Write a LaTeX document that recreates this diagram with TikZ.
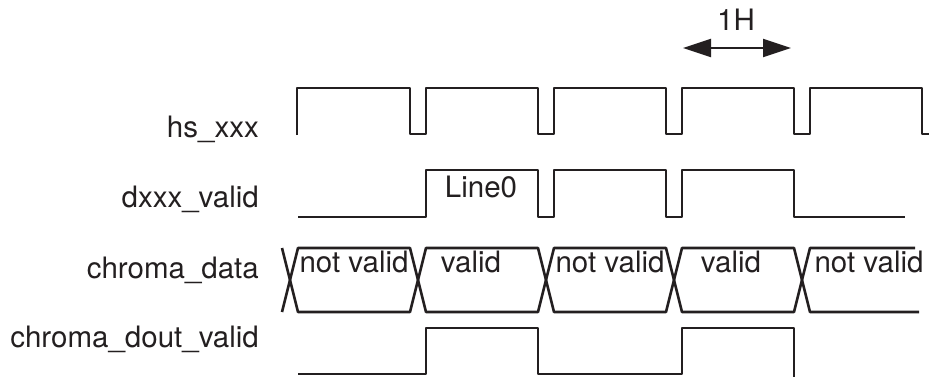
\documentclass[tikz,border=0pt]{standalone}
\usepackage{fontspec}
\setmainfont{TeX Gyre Heros}
\usetikzlibrary{arrows.meta}
\definecolor{ink}{HTML}{231F20}
\tikzset{
  sig/.style={draw=ink, line width=2.6pt, line join=round},
  lbl/.style={inner sep=0pt, anchor=base east, text=ink, font=\fontsize{29.5}{34}\selectfont},
  celltxt/.style={inner sep=0pt, anchor=base, text=ink, font=\fontsize{29.5}{34}\selectfont},
  dimarrow/.style={draw=ink, line width=2.2pt, {Triangle[length=28pt,width=18pt]}-{Triangle[length=28pt,width=18pt]}}
}
\begin{document}
\begin{tikzpicture}[x=1pt,y=-1pt]
\useasboundingbox (0,0) rectangle (929,376);
% labels
\node[lbl] (lhs) at (259,137) {hs\_xxx};
\node[lbl] (ldv) at (259,207) {dxxx\_valid};
\node[lbl] (lcd) at (259,278) {chroma\_data};
\node[lbl] (lcv) at (259,347) {chroma\_dout\_valid};
% hs_xxx
\draw[sig] (297,135) -- (297,88) -- (410,88) -- (410,134) -- (426,134) -- (426,88)
  -- (538,88) -- (538,134) -- (554,134) -- (554,88) -- (666,88) -- (666,134)
  -- (682,134) -- (682,88) -- (794,88) -- (794,134) -- (810,134) -- (810,88)
  -- (922,88) -- (922,134) -- (929,134);
% dxxx_valid
\draw[sig] (298,217) -- (426,217) -- (426,170) -- (538,170) -- (538,217) -- (554,217)
  -- (554,170) -- (666,170) -- (666,217) -- (682,217) -- (682,170) -- (794,170)
  -- (794,217) -- (905,217);
\node[celltxt] (line0) at (481,197) {Line0};
% chroma_data
\draw[sig] (282,248) -- (298,312) -- (410,312) -- (426,248) -- (538,248) -- (554,312)
  -- (666,312) -- (682,248) -- (794,248) -- (810,312) -- (919,312);
\draw[sig] (282,312) -- (298,248) -- (410,248) -- (426,312) -- (538,312) -- (554,248)
  -- (666,248) -- (682,312) -- (794,312) -- (810,248) -- (915,248);
\node[celltxt] (c1) at (354,272) {not valid};
\node[celltxt] (c2) at (471,272) {valid};
\node[celltxt] (c3) at (610,272) {not valid};
\node[celltxt] (c4) at (731,272) {valid};
\node[celltxt] (c5) at (869,272) {not valid};
% chroma_dout_valid
\draw[sig] (298,374) -- (426,374) -- (426,328) -- (538,328) -- (538,374) -- (682,374)
  -- (682,328) -- (794,328) -- (794,377);
% 1H
\coordinate (hl) at (683,48);
\coordinate (hr) at (791,48);
\draw[dimarrow] (hl) -- (hr);
\node[celltxt] (oneh) at (736,30) {1H};
\end{tikzpicture}
\end{document}
